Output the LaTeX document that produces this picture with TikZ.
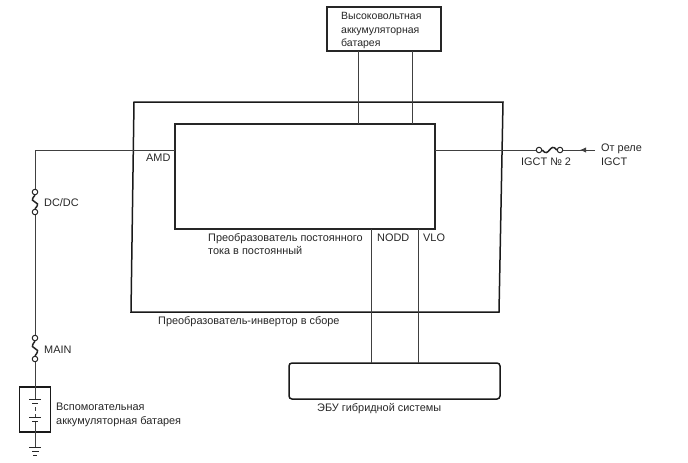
\documentclass[tikz,border=0pt]{standalone}
\usepackage{fontspec}
\setmainfont{Liberation Sans}
\usetikzlibrary{arrows.meta}
\tikzset{
  thickbox/.style={draw=black!85, line width=1.1pt, inner sep=0pt},
  frameline/.style={draw=black!90, line width=1.5pt, inner sep=0pt},
  wire/.style={draw=black!75, line width=0.9pt},
  cellline/.style={draw=black!85, line width=1pt},
  fuseend/.style={circle, draw=black!85, line width=1pt, fill=white, inner sep=0pt, minimum size=5.5pt},
  fuselink/.style={draw=black!85, line width=1.5pt},
  label/.style={inner sep=0pt, align=left, font=\fontsize{10.9}{13.3}\selectfont, text=black!85},
}
\begin{document}
\begin{tikzpicture}[x=1pt,y=-1pt]
  \useasboundingbox (0,0) rectangle (688,463);

  % Marking boxes
  \node [thickbox, minimum width=114pt, minimum height=44pt] (hvbat) at (384,29) {};
  \node [thickbox, minimum width=260pt, minimum height=105pt] (conv) at (305,176.5) {};
  \node [frameline, rounded corners=3pt, minimum width=211pt, minimum height=36pt] (ecu) at (394.5,381) {};
  \node [frameline, minimum width=31pt, minimum height=45pt] (auxbat) at (35,409.5) {};

  % Drawing outer frame
  \draw [frameline] (134,102) -- (503,102) -- (499,312) -- (131,312) -- cycle;

  % Marking terminals on the boxes
  \coordinate (hvplus) at (358,51);
  \coordinate (hvminus) at (412,51);
  \coordinate (convplus) at (358,124);
  \coordinate (convminus) at (412,124);
  \coordinate (nodd) at (371,229);
  \coordinate (vlo) at (418,229);
  \coordinate (eculeft) at (371,363);
  \coordinate (ecuright) at (418,363);
  \coordinate (amd) at (175,150);
  \coordinate (corner) at (35,150);
  \coordinate (igct) at (435,150);
  \coordinate (relay) at (595,150);
  \coordinate (batin) at (35,387);
  \coordinate (batout) at (35,432);
  \coordinate (gnd) at (35,447.5);

  % Marking fuses by circles
  \node [fuseend] (dctop) at (35,192) {};
  \node [fuseend] (dcbot) at (35,212) {};
  \node [fuseend] (maintop) at (35,338) {};
  \node [fuseend] (mainbot) at (35,359) {};
  \node [fuseend] (igleft) at (539,150) {};
  \node [fuseend] (igright) at (560,150) {};

  % Drawing wires
  \draw [wire] (hvplus) -- (convplus);
  \draw [wire] (hvminus) -- (convminus);
  \draw [wire] (nodd) -- (eculeft);
  \draw [wire] (vlo) -- (ecuright);
  \draw [wire] (amd) -- (corner) -- (dctop);
  \draw [wire] (dcbot) -- (maintop);
  \draw [wire] (mainbot) -- (batin);
  \draw [wire] (igct) -- (igleft);
  \draw [wire] (igright) -- (relay);
  \draw [wire] (batout) -- (gnd);

  % Drawing fuse links
  \draw [fuselink] (dctop.south) .. controls (26,205) and (44,199) .. (dcbot.north);
  \draw [fuselink] (maintop.south) .. controls (26,352) and (44,345) .. (mainbot.north);
  \draw [fuselink] (igleft.east) .. controls (549,159) and (550,141) .. (igright.west);

  % Drawing arrow head
  \coordinate (tip) at (580,150);
  \draw [wire, -{Latex[length=6pt,width=5.5pt]}] (relay) -- (tip);

  % Drawing battery cells
  \draw [wire] (batin) -- (35,399.5);
  \draw [cellline] (29,399.5) -- (41,399.5);
  \draw [cellline] (32,403.5) -- (38,403.5);
  \draw [wire] (35,407) -- (35,411);
  \draw [wire] (35,414) -- (35,417.5);
  \draw [cellline] (29,417.5) -- (41,417.5);
  \draw [cellline] (32,421.5) -- (38,421.5);
  \draw [wire] (35,421.5) -- (batout);

  % Drawing ground
  \draw [cellline] (29,447.5) -- (41,447.5);
  \draw [cellline] (32,451.5) -- (39,451.5);
  \draw [cellline] (33,455.5) -- (37,455.5);

  % Marking labels
  \node [label, font=\fontsize{10.5}{13.3}\selectfont, anchor=north west] (hvtext) at (341,12.5) {Высоковольтная\\аккумуляторная\\батарея};
  \node [label, anchor=north west] (amdtext) at (146,153.5) {AMD};
  \node [label, anchor=north west] (dctext) at (44,198) {DC/DC};
  \node [label, anchor=north west] (maintext) at (44,346) {MAIN};
  \node [label, anchor=north west] (igtext) at (521,158) {IGCT № 2};
  \node [label, anchor=north west] (relaytext) at (601,144) {От реле\\IGCT};
  \node [label, anchor=north west] (convtext) at (208,233.5) {Преобразователь постоянного\\тока в постоянный};
  \node [label, anchor=north west] (noddtext) at (377,233.5) {NODD};
  \node [label, anchor=north west] (vlotext) at (423,233.5) {VLO};
  \node [label, anchor=north west] (invtext) at (158,316.5) {Преобразователь-инвертор в сборе};
  \node [label, anchor=north west] (ecutext) at (317,403.5) {ЭБУ гибридной системы};
  \node [label, anchor=north west] (auxtext) at (56,403) {Вспомогательная\\аккумуляторная батарея};
\end{tikzpicture}
\end{document}
